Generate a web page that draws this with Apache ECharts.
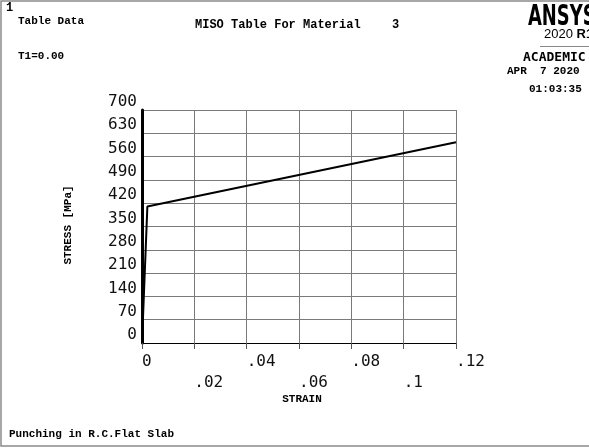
<!DOCTYPE html>
<html>
<head>
<meta charset="utf-8">
<script src="https://cdn.jsdelivr.net/npm/echarts@6/dist/echarts.min.js"></script>
<style>
  html, body { margin: 0; padding: 0; background: #fff; }
  #chart { width: 589px; height: 448px; }
</style>
</head>
<body>
<div id="chart"></div>
<script>
// MISO stress-strain table for material 3
const strain = [0, 0.00205, 0.12];
const stress = [0, 410, 603];

// Axis ticks
const strainTicks = ['0', '.02', '.04', '.06', '.08', '.1', '.12'];
const stressTicks = ['0', '70', '140', '210', '280', '350', '420', '490', '560', '630', '700'];

const mono = 'Liberation Mono';
const tickFont = 'DejaVu Sans Mono';

const chart = echarts.init(document.getElementById('chart'), null, { renderer: 'canvas' });

const points = strain.map((s, i) => [s, stress[i]]);

chart.setOption({
  animation: false,
  backgroundColor: '#ffffff',
  grid: { left: 142, right: 133, top: 110, bottom: 105, containLabel: false },
  xAxis: {
    type: 'value',
    min: 0,
    max: 0.12,
    interval: 0.02,
    axisLine: { show: true, onZero: false, lineStyle: { color: '#000', width: 1 } },
    axisTick: { show: true, inside: false, length: 6, lineStyle: { color: '#555' } },
    splitLine: { show: true, lineStyle: { color: '#7a7a7a', width: 1 } },
    axisLabel: {
      show: true,
      margin: 8,
      align: 'left',
      fontFamily: tickFont,
      fontSize: 16,
      lineHeight: 21,
      color: '#111',
      formatter: (v, i) => (i % 2 ? '\n' : '') + strainTicks[i]
    }
  },
  yAxis: {
    type: 'value',
    min: 0,
    max: 700,
    interval: 70,
    axisLine: { show: true, onZero: false, lineStyle: { color: '#000', width: 3 } },
    axisTick: { show: false },
    splitLine: { show: true, lineStyle: { color: '#7a7a7a', width: 1 } },
    axisLabel: {
      show: true,
      margin: 5,
      verticalAlign: 'bottom',
      fontFamily: tickFont,
      fontSize: 16,
      lineHeight: 16,
      color: '#111',
      formatter: (v, i) => stressTicks[i]
    }
  },
  series: [{
    type: 'line',
    data: points,
    showSymbol: false,
    symbol: 'none',
    lineStyle: { color: '#000', width: 2 },
    silent: true
  }],
  graphic: [
    // frame
    { type: 'rect', shape: { x: 1, y: 1, width: 620, height: 445 },
      style: { fill: 'none', stroke: '#8a8a8a', lineWidth: 1.5 }, silent: true },
    { type: 'text', left: 6, top: 2,
      style: { text: '1', font: 'bold 12px ' + mono, fill: '#000' } },
    { type: 'text', left: 18, top: 16,
      style: { text: 'Table Data', font: 'bold 11px ' + mono, fill: '#000' } },
    { type: 'text', left: 18, top: 51,
      style: { text: 'T1=0.00', font: 'bold 11px ' + mono, fill: '#000' } },
    { type: 'text', left: 195, top: 19,
      style: { text: 'MISO Table For Material', font: 'bold 12px ' + mono, fill: '#000' } },
    { type: 'text', left: 392, top: 19,
      style: { text: '3', font: 'bold 12px ' + mono, fill: '#000' } },
    // product badge
    { type: 'text', x: 528, y: 4, scaleX: 0.64, scaleY: 1,
      style: { text: 'ANSYS', font: 'bold 28px "DejaVu Sans"', fill: '#000' } },
    { type: 'text', x: 544, y: 28,
      style: { text: '{a|2020 }{b|R1}', fill: '#000',
        rich: { a: { font: '13px "Liberation Sans"', fill: '#000' },
                b: { font: 'bold 13px "Liberation Sans"', fill: '#000' } } } },
    { type: 'line', shape: { x1: 540, y1: 46.5, x2: 589, y2: 46.5 },
      style: { stroke: '#888', lineWidth: 1.2 } },
    { type: 'text', x: 523, y: 51,
      style: { text: 'ACADEMIC', font: 'bold 13px "DejaVu Sans Mono"', fill: '#000' } },
    { type: 'text', x: 507, y: 66,
      style: { text: 'APR  7 2020', font: 'bold 11px ' + mono, fill: '#000' } },
    { type: 'text', x: 529, y: 84,
      style: { text: '01:03:35', font: 'bold 11px ' + mono, fill: '#000' } },
    // axis titles
    { type: 'text', x: 68, y: 225, rotation: Math.PI / 2,
      style: { text: 'STRESS [MPa]', font: 'bold 11px ' + mono, fill: '#000',
               align: 'center', verticalAlign: 'middle' } },
    { type: 'text', x: 302, y: 399,
      style: { text: 'STRAIN', font: 'bold 11px ' + mono, fill: '#000',
               align: 'center', verticalAlign: 'middle' } },
    { type: 'text', left: 9, top: 429,
      style: { text: 'Punching in R.C.Flat Slab', font: 'bold 11px ' + mono, fill: '#000' } }
  ]
});
</script>
</body>
</html>
